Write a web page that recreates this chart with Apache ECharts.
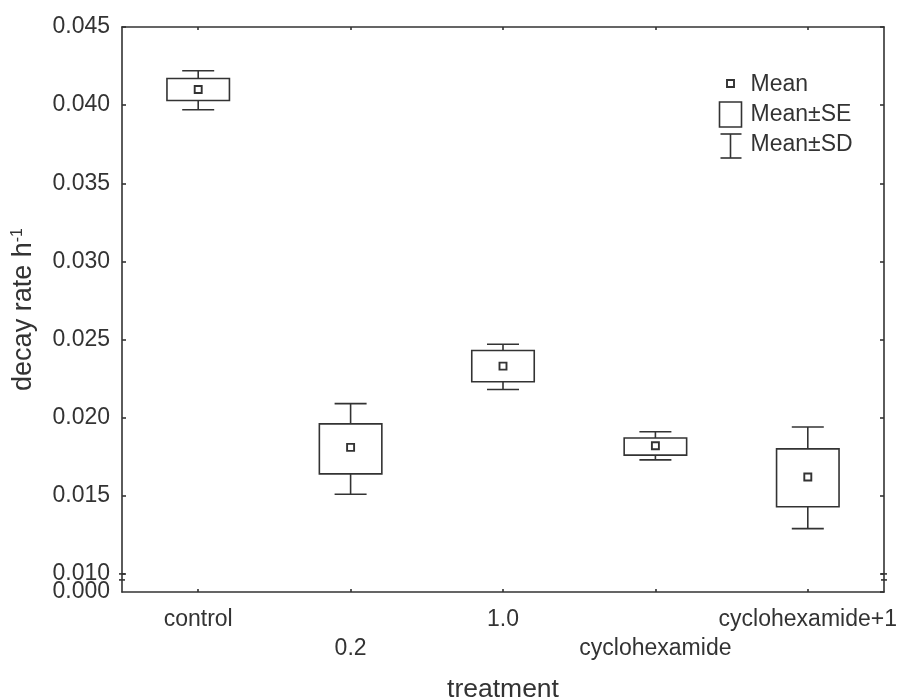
<!DOCTYPE html>
<html>
<head>
<meta charset="utf-8">
<script src="https://cdn.jsdelivr.net/npm/echarts@6/dist/echarts.min.js"></script>
<style>
  html, body { margin: 0; padding: 0; background: #fff; }
  #chart { width: 901px; height: 699px; }
</style>
</head>
<body>
<div id="chart"></div>
<script>
// Decay rate per treatment: mean, ±SE box and ±SD whiskers
const categories = ['control', '0.2', '1.0', 'cyclohexamide', 'cyclohexamide+1'];
const meanValues = [0.0410, 0.0181, 0.0233, 0.0182, 0.0162];
const seLow      = [0.0403, 0.0164, 0.0223, 0.0176, 0.0143];
const seHigh     = [0.0417, 0.0196, 0.0243, 0.0187, 0.0180];
const sdLow      = [0.0397, 0.0151, 0.0218, 0.0173, 0.0129];
const sdHigh     = [0.0422, 0.0209, 0.0247, 0.0191, 0.0194];
const yTickStep = 0.005;
const yBreakFrom = 0;
const yBreakTo = 0.010;

const INK = '#333';
const LW = 1.6;
const FONT = '"Liberation Sans", Arial, sans-serif';
const GRID = { left: 122, right: 17, top: 27, bottom: 107 };
const W = 901;
const fmtY = v => v.toFixed(3);

const rows = categories.map((c, i) => [i, sdLow[i], seLow[i], meanValues[i], seHigh[i], sdHigh[i]]);

const chart = echarts.init(document.getElementById('chart'), null, { renderer: 'canvas' });

function whiskers(params, api) {
  const i = api.value(0);
  const band = api.size([1, 0])[0];
  const cap = band * 0.21;
  const top = api.coord([i, api.value(5)]);
  const seTop = api.coord([i, api.value(4)]);
  const seBot = api.coord([i, api.value(2)]);
  const bot = api.coord([i, api.value(1)]);
  const x = top[0];
  const style = { stroke: INK, lineWidth: LW, fill: null };
  return {
    type: 'group',
    children: [
      { type: 'line', shape: { x1: x, y1: seTop[1], x2: x, y2: top[1] }, style },
      { type: 'line', shape: { x1: x - cap / 2, y1: top[1], x2: x + cap / 2, y2: top[1] }, style },
      { type: 'line', shape: { x1: x, y1: seBot[1], x2: x, y2: bot[1] }, style },
      { type: 'line', shape: { x1: x - cap / 2, y1: bot[1], x2: x + cap / 2, y2: bot[1] }, style }
    ]
  };
}

function seBox(params, api) {
  const i = api.value(0);
  const band = api.size([1, 0])[0];
  const w = band * 0.41;
  const hi = api.coord([i, api.value(4)]);
  const lo = api.coord([i, api.value(2)]);
  return {
    type: 'rect',
    shape: { x: hi[0] - w / 2, y: hi[1], width: w, height: lo[1] - hi[1] },
    style: { stroke: INK, lineWidth: LW, fill: '#fff' }
  };
}

function meanMark(params, api) {
  const i = api.value(0);
  const p = api.coord([i, api.value(3)]);
  const s = 7;
  return {
    type: 'rect',
    shape: { x: p[0] - s / 2, y: p[1] - s / 2, width: s, height: s },
    style: { stroke: INK, lineWidth: 1.9, fill: '#fff' }
  };
}

const yCommon = {
  type: 'value',
  min: 0,
  max: 0.045,
  interval: yTickStep,
  breaks: [{ start: yBreakFrom, end: yBreakTo, gap: '3.2%' }],
  breakArea: { show: false },
  breakLabelLayout: { moveOverlap: false },
  splitLine: { show: false },
  axisLine: { show: true, onZero: false, breakLine: false, lineStyle: { color: INK, width: LW } },
  axisTick: { show: true, inside: true, length: 4, lineStyle: { color: INK, width: LW } }
};

const xCommon = {
  type: 'category',
  data: categories,
  axisLine: { show: true, onZero: false, lineStyle: { color: INK, width: LW } },
  axisTick: { show: true, inside: true, alignWithLabel: true, length: 3, lineStyle: { color: INK, width: LW } }
};

const option = {
  animation: false,
  backgroundColor: '#fff',
  textStyle: { fontFamily: FONT },
  grid: Object.assign({ containLabel: false, outerBoundsMode: 'none' }, GRID),
  xAxis: [
    Object.assign({}, xCommon, {
      position: 'bottom',
      name: 'treatment',
      nameLocation: 'middle',
      nameGap: 84,
      nameTextStyle: { fontSize: 26.5, color: INK, fontFamily: FONT },
      axisLabel: {
        interval: 0,
        margin: 13,
        fontSize: 23,
        lineHeight: 29,
        color: INK,
        fontFamily: FONT,
        formatter: (v, idx) => (idx % 2 ? '\n' + v : v)
      }
    }),
    Object.assign({}, xCommon, {
      position: 'top',
      axisLabel: { show: false }
    })
  ],
  yAxis: [
    Object.assign({}, yCommon, {
      position: 'left',
      name: 'decay rate h{sup|-1}',
      nameLocation: 'middle',
      nameGap: 85,
      nameTextStyle: {
        fontSize: 27, color: INK, fontFamily: FONT,
        rich: { sup: { fontSize: 16, verticalAlign: 'top', color: INK, fontFamily: FONT } }
      },
      axisLabel: {
        margin: 12, fontSize: 23, color: INK, fontFamily: FONT,
        showMinLabel: false, showMaxLabel: true,
        formatter: fmtY
      }
    }),
    Object.assign({}, yCommon, {
      position: 'right',
      axisLabel: { show: false }
    })
  ],
  series: [
    {
      name: 'Mean±SD', type: 'custom', renderItem: whiskers, data: rows,
      encode: { x: 0, y: [1, 5] }, z: 2
    },
    {
      name: 'Mean±SE', type: 'custom', renderItem: seBox, data: rows,
      encode: { x: 0, y: [2, 4] }, z: 3
    },
    {
      name: 'Mean', type: 'custom', renderItem: meanMark, data: rows,
      encode: { x: 0, y: 3 }, z: 4
    }
  ],
  graphic: [
    {
      type: 'group', left: 718, top: 73, z: 10,
      children: [
        { type: 'rect', shape: { x: 7.5, y: 0, width: 7, height: 7 }, style: { stroke: INK, lineWidth: 1.9, fill: '#fff' } },
        { type: 'text', x: 31, y: 4.5, style: { text: 'Mean', font: '23px ' + FONT, fill: INK, verticalAlign: 'middle' } },
        { type: 'rect', shape: { x: 0, y: 22, width: 22, height: 25 }, style: { stroke: INK, lineWidth: LW, fill: '#fff' } },
        { type: 'text', x: 31, y: 35, style: { text: 'Mean±SE', font: '23px ' + FONT, fill: INK, verticalAlign: 'middle' } },
        { type: 'line', shape: { x1: 11, y1: 54, x2: 11, y2: 78 }, style: { stroke: INK, lineWidth: LW } },
        { type: 'line', shape: { x1: 1, y1: 54, x2: 22, y2: 54 }, style: { stroke: INK, lineWidth: LW } },
        { type: 'line', shape: { x1: 1, y1: 78, x2: 22, y2: 78 }, style: { stroke: INK, lineWidth: LW } },
        { type: 'text', x: 31, y: 65, style: { text: 'Mean±SD', font: '23px ' + FONT, fill: INK, verticalAlign: 'middle' } }
      ]
    }
  ]
};

chart.setOption(option);

// Break decoration: "=" symbols on both vertical frame lines at the break end,
// plus the axis-minimum label that sits just under the 0.010 label
const yEnd = chart.convertToPixel({ yAxisIndex: 0 }, yBreakTo);
const yMin = chart.convertToPixel({ yAxisIndex: 0 }, yBreakFrom);
const breakMarks = [GRID.left, W - GRID.right].map((ax) => ({
  type: 'group', z: 20,
  children: [
    { type: 'rect', shape: { x: ax - 2, y: yEnd + 1, width: 4, height: 5 }, style: { fill: '#fff' } },
    { type: 'line', shape: { x1: ax - 3, y1: yEnd, x2: ax + 3, y2: yEnd }, style: { stroke: INK, lineWidth: LW } },
    { type: 'line', shape: { x1: ax - 3, y1: yEnd + 6, x2: ax + 3, y2: yEnd + 6 }, style: { stroke: INK, lineWidth: LW } }
  ]
}));
const minLabel = {
  type: 'text', z: 5, x: GRID.left - 12, y: yMin,
  style: { text: fmtY(yBreakFrom), font: '23px ' + FONT, fill: INK, align: 'right', verticalAlign: 'middle' }
};
chart.setOption({ graphic: option.graphic.concat(breakMarks, [minLabel]) });
</script>
</body>
</html>
